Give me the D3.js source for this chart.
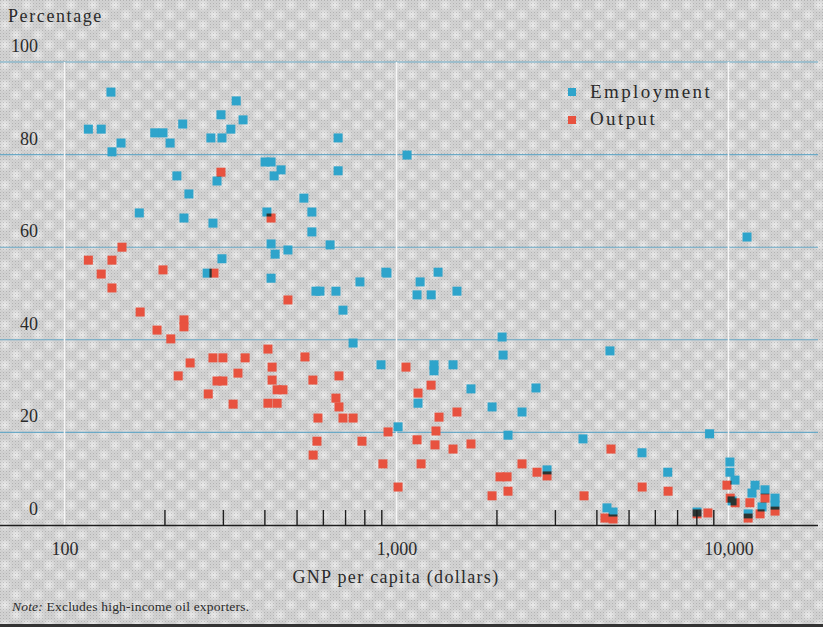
<!DOCTYPE html>
<html>
<head>
<meta charset="utf-8">
<script src="https://cdn.jsdelivr.net/npm/d3@7"></script>
<style>
	body { margin: 0; background: #d2d2d2; }
	svg { display: block; }
	text { font-family: "Liberation Serif", "Times New Roman", serif; fill: #2b2b2b; }
</style>
</head>
<body>
<div id="chart"></div>
<script>
/* DATA */
//employment share in agriculture (GNP per capita in dollars, percentage)
let employmentGnp = [138, 118, 129, 148, 139, 187, 198, 208, 227, 329, 296, 345, 317, 276, 298, 667,
	402, 419, 449, 428, 667, 288, 218, 237, 526, 556, 168, 229, 280, 407, 556, 419, 431, 471, 631,
	298, 269, 419, 929, 776, 572, 588, 657, 690, 740, 898, 1076, 936, 1178, 1334, 1153, 1272, 1521,
	2080, 2094, 4395, 1297, 1297, 1480, 1161, 1676, 2631, 1940, 2388, 1011, 2167, 3645, 5487, 2841,
	6561, 8770, 11370, 4305, 4490, 8040, 10100, 10100, 10460, 12020, 11770, 12880, 13810, 12620,
	10250, 11460, 13810];
let employmentShare = [93.5, 85.5, 85.5, 82.5, 80.6, 84.7, 84.7, 82.5, 86.6, 91.6, 88.6, 87.5, 85.5, 83.6, 83.6, 83.6,
	78.4, 78.4, 76.7, 75.4, 76.5, 74.3, 75.4, 71.5, 70.6, 67.6, 67.4, 66.3, 65.2, 67.6, 63.3, 60.7, 58.5, 59.4, 60.5,
	57.5, 54.4, 53.3, 54.6, 52.5, 50.5, 50.5, 50.5, 46.4, 39.3, 34.6, 79.9, 54.4, 52.5, 54.6, 49.7, 49.7, 50.5,
	40.6, 36.7, 37.6, 34.6, 33.3, 34.6, 26.3, 29.4, 29.6, 25.5, 24.4, 21.2, 19.4, 18.6, 15.6, 11.9,
	11.4, 19.7, 62.2, 3.7, 2.8, 2.8, 13.6, 11.4, 9.7, 8.6, 6.9, 7.6, 5.8, 3.9,
	5.2, 2.4, 4.3];

//output share of agriculture
let outputGnp = [296, 149, 118, 139, 129, 198, 139, 419, 282, 471, 169, 229, 229, 190, 209, 239, 280, 300,
	350, 410, 530, 220, 333, 422, 288, 300, 560, 671, 271, 322, 422, 437, 455, 410, 437, 657, 671, 690,
	740, 580, 943, 1068, 576, 787, 561, 1011, 1271, 1161, 1521, 1343, 1315, 1153, 1306, 1480, 1676, 4426,
	910, 1186, 2388, 2650, 2841, 2050, 2153, 1940, 2167, 3672, 5495, 6577, 4246, 4490, 8040, 8670, 9894,
	10120, 10470, 11600, 11460, 12880, 13810, 12450];
let outputShare = [76.2, 60.0, 57.2, 57.2, 54.2, 55.1, 51.2, 66.3, 54.4, 48.6, 46.0, 44.3, 42.8, 42.1, 40.2, 35.0, 36.1, 36.1,
	36.1, 38.0, 36.3, 32.2, 32.8, 34.1, 31.1, 31.1, 31.3, 32.2, 28.3, 26.1, 31.3, 29.2, 29.2, 26.3, 26.3, 27.4, 25.5, 23.1,
	23.1, 23.1, 20.1, 34.1, 18.1, 18.1, 15.1, 8.2, 30.2, 28.5, 24.4, 23.3, 20.3, 18.4, 17.3, 16.4, 17.5, 16.4,
	13.2, 13.2, 13.2, 11.4, 10.6, 10.4, 10.4, 6.3, 7.3, 6.3, 8.2, 7.3, 1.5, 1.3, 2.4, 2.6, 8.6,
	5.8, 4.8, 4.8, 1.5, 5.8, 3.0, 2.4];

//axes
let xLabelTicks = [100, 1000, 10000];
let xMinorTicks = [200, 300, 400, 500, 600, 700, 800, 900, 2000, 3000, 4000, 5000, 6000, 7000, 8000, 9000];
let yTicks = [0, 20, 40, 60, 80, 100];
let seriesNames = ["Employment", "Output"];
let seriesColors = ["#2ea4cb", "#e8523f"];

/* CHART */
let W = 823, H = 627;
let svg = d3.select("#chart").append("svg")
	.attr("width", W)
	.attr("height", H);

//background screen texture
let defs = svg.append("defs");
let blob = defs.append("radialGradient").attr("id", "blob");
blob.append("stop").attr("offset", "0%").attr("stop-color", "#fff").attr("stop-opacity", 0.6);
blob.append("stop").attr("offset", "100%").attr("stop-color", "#fff").attr("stop-opacity", 0);
let blobs = defs.append("pattern").attr("id", "blobs")
	.attr("width", 22).attr("height", 20).attr("patternUnits", "userSpaceOnUse");
blobs.append("circle").attr("cx", 5).attr("cy", 5).attr("r", 7).attr("fill", "url(#blob)");
blobs.append("circle").attr("cx", 16).attr("cy", 15).attr("r", 7).attr("fill", "url(#blob)");
let dither = defs.append("pattern").attr("id", "dither")
	.attr("width", 3).attr("height", 3).attr("patternUnits", "userSpaceOnUse");
dither.append("rect").attr("width", 1).attr("height", 1).attr("fill", "#555").attr("fill-opacity", 0.25);
dither.append("rect").attr("x", 1.5).attr("y", 1.5).attr("width", 1).attr("height", 1).attr("fill", "#555").attr("fill-opacity", 0.12);

svg.append("rect").attr("width", W).attr("height", H).attr("fill", "#d2d2d2");
svg.append("rect").attr("width", W).attr("height", H).attr("fill", "url(#blobs)");
svg.append("rect").attr("width", W).attr("height", H).attr("fill", "url(#dither)");
//dark edge at the bottom
svg.append("rect").attr("x", 0).attr("y", 624).attr("width", W).attr("height", 3).attr("fill", "#333");

//scales
let x = d3.scaleLog().domain([100, 10000]).range([64.5, 728.5]),
	y = d3.scaleLinear().domain([0, 100]).range([525, 62]);
let plotLeft = 0, plotRight = 818;

//horizontal grid lines
svg.append("g")
	.selectAll("line")
	.data(yTicks.filter(function(d) { return d > 0; }))
	.enter().append("line")
	.attr("x1", plotLeft).attr("x2", plotRight)
	.attr("y1", function(d) { return y(d); })
	.attr("y2", function(d) { return y(d); })
	.style("stroke", "#6aa9c6")
	.style("stroke-width", 1.1);

//vertical white lines at decades
svg.append("g")
	.selectAll("line")
	.data(xLabelTicks)
	.enter().append("line")
	.attr("x1", function(d) { return x(d); })
	.attr("x2", function(d) { return x(d); })
	.attr("y1", y(100)).attr("y2", y(0))
	.style("stroke", "#f6f6f6")
	.style("stroke-width", 1.5);

//y labels sit above each grid line
svg.append("g")
	.selectAll("text")
	.data(yTicks)
	.enter().append("text")
	.attr("x", 38)
	.attr("y", function(d) { return y(d) - 10; })
	.attr("text-anchor", "end")
	.style("font-size", "18px")
	.text(function(d) { return d; });

svg.append("text")
	.attr("x", 8).attr("y", 22)
	.style("font-size", "18px")
	.style("letter-spacing", "1.6px")
	.text("Percentage");

//points: overlaps of the two colours print dark, so the output layer multiplies
let dots = svg.append("g").style("isolation", "isolate");
let sq = 9;
let empData = employmentGnp.map(function(g, i) { return {gnp: g, share: employmentShare[i]}; });
let outData = outputGnp.map(function(g, i) { return {gnp: g, share: outputShare[i]}; });

dots.append("g")
	.selectAll("rect")
	.data(empData)
	.enter().append("rect")
	.attr("x", function(d) { return x(d.gnp) - sq / 2; })
	.attr("y", function(d) { return y(d.share) - sq / 2; })
	.attr("width", sq).attr("height", sq)
	.style("fill", seriesColors[0]);

dots.append("g")
	.style("mix-blend-mode", "multiply")
	.selectAll("rect")
	.data(outData)
	.enter().append("rect")
	.attr("x", function(d) { return x(d.gnp) - sq / 2; })
	.attr("y", function(d) { return y(d.share) - sq / 2; })
	.attr("width", sq).attr("height", sq)
	.style("fill", seriesColors[1]);

//x axis: baseline, minor ticks pointing up, labels below
svg.append("line")
	.attr("x1", plotLeft).attr("x2", plotRight)
	.attr("y1", 525.5).attr("y2", 525.5)
	.style("stroke", "#1e1e1e")
	.style("stroke-width", 1.6);

let minor = svg.append("g")
	.attr("transform", "translate(0,525)")
	.call(d3.axisTop(x).tickValues(xMinorTicks).tickSize(15).tickFormat(""));
minor.select(".domain").remove();
minor.selectAll(".tick line").style("stroke", "#1e1e1e").style("stroke-width", 1.4);

let labels = svg.append("g")
	.attr("transform", "translate(0,525)")
	.call(d3.axisBottom(x).tickValues(xLabelTicks).tickSize(0).tickPadding(17).tickFormat(d3.format(",")));
labels.select(".domain").remove();
labels.selectAll("text")
	.style("font-family", "'Liberation Serif', serif")
	.style("font-size", "18px")
	.style("fill", "#2b2b2b");

svg.append("text")
	.attr("x", 396).attr("y", 583)
	.attr("text-anchor", "middle")
	.style("font-size", "18px")
	.style("letter-spacing", "1.3px")
	.text("GNP per capita (dollars)");

let note = svg.append("text")
	.attr("x", 12).attr("y", 611)
	.style("font-size", "13.5px")
	.style("letter-spacing", "0.2px");
note.append("tspan").style("font-style", "italic").text("Note:");
note.append("tspan").text(" Excludes high-income oil exporters.");

//legend
let legend = svg.append("g");
seriesNames.forEach(function(name, i) {
	legend.append("rect")
		.attr("x", 568).attr("y", 88 + i * 28)
		.attr("width", 8).attr("height", 8)
		.style("fill", seriesColors[i]);
	legend.append("text")
		.attr("x", 590).attr("y", 98 + i * 27)
		.style("font-size", "19px")
		.style("letter-spacing", "2.4px")
		.text(name);
});
</script>
</body>
</html>
